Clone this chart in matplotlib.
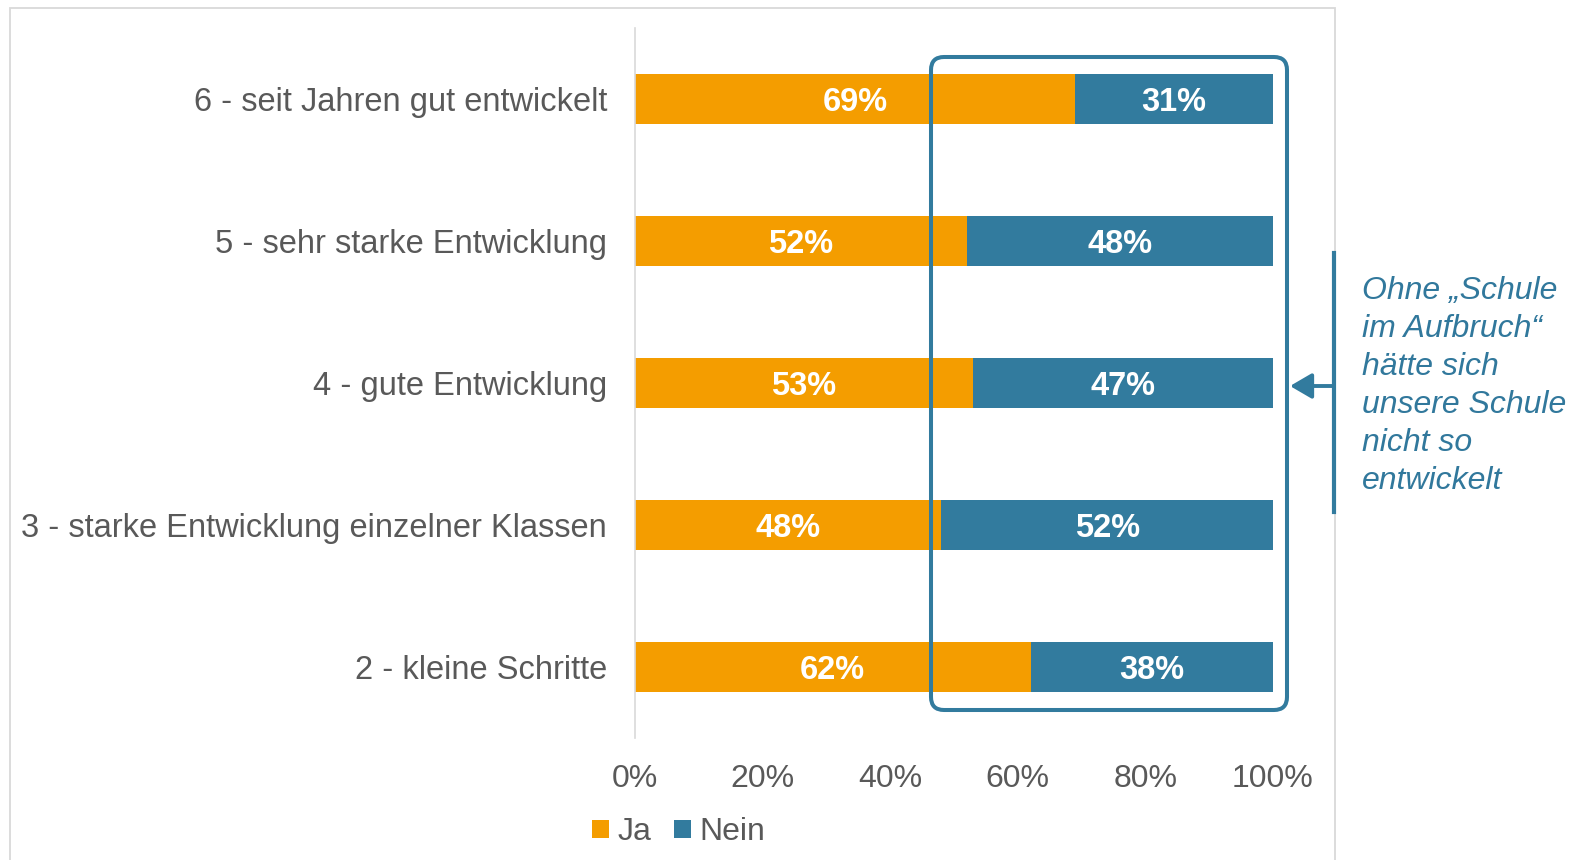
import matplotlib
matplotlib.use("Agg")
import matplotlib.pyplot as plt
from matplotlib.patches import FancyBboxPatch, Rectangle, Patch, FancyArrowPatch
from matplotlib.lines import Line2D

categories = ["2 - kleine Schritte", "3 - starke Entwicklung einzelner Klassen",
              "4 - gute Entwicklung", "5 - sehr starke Entwicklung",
              "6 - seit Jahren gut entwickelt"]
ja = [62, 48, 53, 52, 69]
nein = [38, 52, 47, 48, 31]
xticks = [0, 20, 40, 60, 80, 100]
xticklabels = ["0%", "20%", "40%", "60%", "80%", "100%"]
series_names = ["Ja", "Nein"]
note = "Ohne „Schule\nim Aufbruch“\nhätte sich\nunsere Schule\nnicht so\nentwickelt"

ORANGE = "#F49D00"
BLUE = "#327B9E"
GRAY = "#595959"
TEAL = "#31789C"

plt.rcParams['font.family'] = ['Liberation Sans', 'DejaVu Sans']

W, H = 1579, 860
fig = plt.figure(figsize=(W / 100, H / 100), dpi=100)
ax = fig.add_axes([635 / W, 1 - 738 / H, 638 / W, 710 / H])

y = list(range(len(categories)))
ax.barh(y, ja, height=0.35, color=ORANGE, label=series_names[0])
ax.barh(y, nein, left=ja, height=0.35, color=BLUE, label=series_names[1])

for i in y:
    ax.text(ja[i] / 2, i, f"{ja[i]}%", ha="center", va="center_baseline",
            color="white", fontsize=23.5, fontweight="bold")
    ax.text(ja[i] + nein[i] / 2, i, f"{nein[i]}%", ha="center",
            va="center_baseline", color="white", fontsize=23.5, fontweight="bold")

ax.set_xlim(0, 100)
ax.set_ylim(-0.5, len(categories) - 0.5)
ax.set_yticks(y)
ax.set_yticklabels(categories, fontsize=23.5, color=GRAY)
ax.set_xticks(xticks)
ax.set_xticklabels(xticklabels, fontsize=23, color=GRAY)
ax.tick_params(axis="both", length=0)
ax.tick_params(axis="y", pad=20)
ax.tick_params(axis="x", pad=19)
for s in ["top", "right", "bottom"]:
    ax.spines[s].set_visible(False)
ax.spines["left"].set_color("#D9D9D9")
ax.spines["left"].set_linewidth(1.2)

# outer frame
frame = Rectangle((10 / 100, -0.1), (1335 - 10) / 100, (H - 8) / 100 + 0.1,
                  transform=fig.dpi_scale_trans, fill=False, edgecolor="#D9D9D9",
                  linewidth=1.3, clip_on=False)
fig.add_artist(frame)

# highlight box
box = FancyBboxPatch((931 / 100, (H - 710) / 100), (1287 - 931) / 100, (710 - 57) / 100,
                     boxstyle="round,pad=0,rounding_size=0.13",
                     transform=fig.dpi_scale_trans, fill=False, edgecolor=BLUE,
                     linewidth=2.9, clip_on=False)
fig.add_artist(box)

# bracket line and arrow
fig.add_artist(Line2D([13.34, 13.34], [(H - 512) / 100, (H - 253) / 100],
                      transform=fig.dpi_scale_trans, color=BLUE, linewidth=3))
fig.add_artist(FancyArrowPatch(
    (13.34, (H - 386) / 100), (12.90, (H - 386) / 100),
    transform=fig.dpi_scale_trans, arrowstyle="-|>,head_length=0.6,head_width=0.35",
    mutation_scale=22, color=BLUE, linewidth=2.8, shrinkA=0, shrinkB=0))

fig.text(1362 / W, 1 - 276 / H, note, ha="left", va="top", fontsize=23,
         style="italic", color=TEAL, linespacing=1.35)

handles = [Patch(facecolor=ORANGE), Patch(facecolor=BLUE)]
fig.legend(handles, series_names, loc="center left",
           bbox_to_anchor=(592 / W, 1 - 832 / H), ncol=2, frameon=False,
           fontsize=23, labelcolor=GRAY, handlelength=0.53, handleheight=0.5,
           handletextpad=0.28, columnspacing=0.69, borderpad=0, borderaxespad=0)

fig.savefig("out.png", dpi=100)
